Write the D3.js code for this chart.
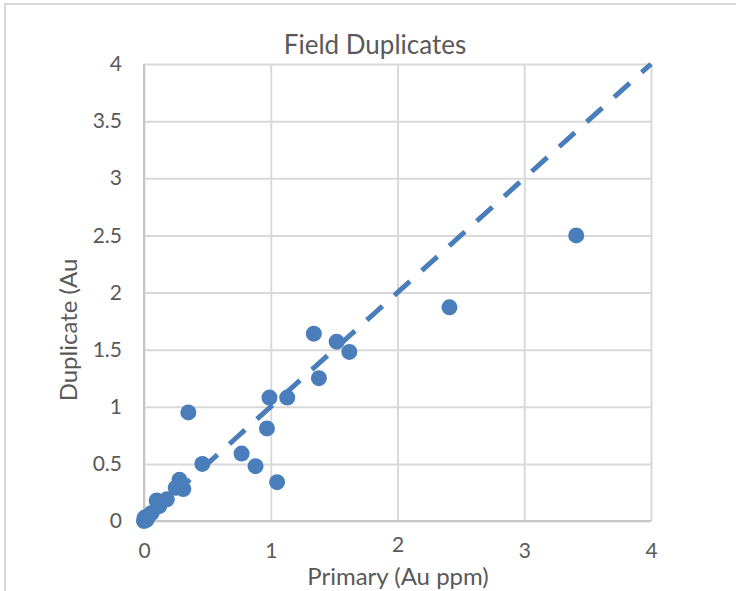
<html>
<head>
<script src="https://cdnjs.cloudflare.com/ajax/libs/d3/7.8.5/d3.min.js"></script>
</head>
<body style="margin: 0 0 0 0; background: #fff;">
<svg id="chart"></svg>
<script type="text/javascript">

// field duplicate pairs (Au ppm)
var primary   = [3.41, 2.41, 1.34, 1.52, 1.62, 1.38, 0.99, 1.13, 0.35, 0.97, 0.77, 0.88, 0.46, 1.05,
                 0.28, 0.31, 0.25, 0.18, 0.10, 0.12, 0.06, 0.03, 0.01, 0.00, 0.02, 0.005]
var duplicate = [2.50, 1.87, 1.64, 1.57, 1.48, 1.25, 1.08, 1.08, 0.95, 0.81, 0.59, 0.48, 0.50, 0.34,
                 0.36, 0.28, 0.29, 0.19, 0.18, 0.13, 0.07, 0.04, 0.02, 0.00, 0.01, 0.03]
var oneToOne  = [[0, 0], [4, 4]]
var xTicks = [0, 1, 2, 3, 4]
var yTicks = [0, 0.5, 1, 1.5, 2, 2.5, 3, 3.5, 4]

var W = 736, H = 591
// note: "top" is taken by window.top, so plot edges get a prefix
var pLeft = 144, pRight = 651, pTop = 64, pBottom = 521
var blue = "#4a7ebb", textCol = "#595959", grid = "#d9d9d9"
var font = "Lato, 'Open Sans', sans-serif"

var svg = d3.select("#chart")
.attr("width", W)
.attr("height", H)
.style("display", "block")

// outer chart frame (only top and left show in the crop)
svg.append("path")
.attr("d", "M5," + H + "V4H" + W)
.attr("fill", "none")
.attr("stroke", grid)
.attr("stroke-width", 2)

var x = d3.scaleLinear().domain([0, 4]).range([pLeft, pRight])
var y = d3.scaleLinear().domain([0, 4]).range([pBottom, pTop])

// gridlines
svg.append("g")
.attr("transform", "translate(0," + pBottom + ")")
.call(d3.axisBottom(x).tickValues(xTicks).tickSize(-(pBottom - pTop)).tickFormat(""))
.call(function(g) { g.select(".domain").remove() })
.selectAll("line").attr("stroke", grid).attr("stroke-width", 2)

svg.append("g")
.attr("transform", "translate(" + pLeft + ",0)")
.call(d3.axisLeft(y).tickValues(yTicks).tickSize(-(pRight - pLeft)).tickFormat(""))
.call(function(g) { g.select(".domain").remove() })
.selectAll("line").attr("stroke", grid).attr("stroke-width", 2)

// axis lines
svg.append("line")
.attr("x1", pLeft).attr("x2", pRight).attr("y1", pBottom).attr("y2", pBottom)
.attr("stroke", "#c6c6c6").attr("stroke-width", 2)
svg.append("line")
.attr("x1", pLeft).attr("x2", pLeft).attr("y1", pTop).attr("y2", pBottom)
.attr("stroke", "#c6c6c6").attr("stroke-width", 2)

// tick labels
var yAx = svg.append("g")
.attr("transform", "translate(" + pLeft + ",0)")
.call(d3.axisLeft(y).tickValues(yTicks).tickSize(0).tickPadding(22).tickFormat(d3.format("")))
yAx.select(".domain").remove()
yAx.selectAll("text")
.attr("fill", textCol)
.style("font-family", font)
.style("font-size", "21px")

var xAx = svg.append("g")
.attr("transform", "translate(0," + pBottom + ")")
.call(d3.axisBottom(x).tickValues(xTicks).tickSize(0).tickPadding(24).tickFormat(d3.format("")))
xAx.select(".domain").remove()
xAx.selectAll("text")
.attr("fill", textCol)
.style("font-family", font)
.style("font-size", "21px")
.attr("dy", function(d) { return d === 2 ? "0.35em" : "0.6em" }) // the "2" sits a little higher in the original

// points
svg.append("g")
.selectAll("circle")
.data(primary)
.enter()
.append("circle")
.attr("cx", function(d) { return x(d) })
.attr("cy", function(d, i) { return y(duplicate[i]) })
.attr("r", 8)
.attr("fill", blue)

// 1:1 line
svg.append("path")
.datum(oneToOne)
.attr("d", d3.line().x(function(d) { return x(d[0]) }).y(function(d) { return y(d[1]) }))
.attr("fill", "none")
.attr("stroke", blue)
.attr("stroke-width", 5)
.attr("stroke-dasharray", "21,16")
.attr("stroke-dashoffset", 33)

// titles
svg.append("text")
.attr("x", 375).attr("y", 54)
.attr("text-anchor", "middle")
.attr("fill", textCol)
.style("font-family", font)
.style("font-size", "26px")
.text("Field Duplicates")

svg.append("text")
.attr("x", 398).attr("y", 585)
.attr("text-anchor", "middle")
.attr("fill", textCol)
.style("font-family", font)
.style("font-size", "24px")
.text("Primary (Au ppm)")

svg.append("text")
.attr("transform", "translate(77,330) rotate(-90)")
.attr("text-anchor", "middle")
.attr("fill", textCol)
.style("font-family", font)
.style("font-size", "24px")
.text("Duplicate (Au")

</script>
</body>
</html>
